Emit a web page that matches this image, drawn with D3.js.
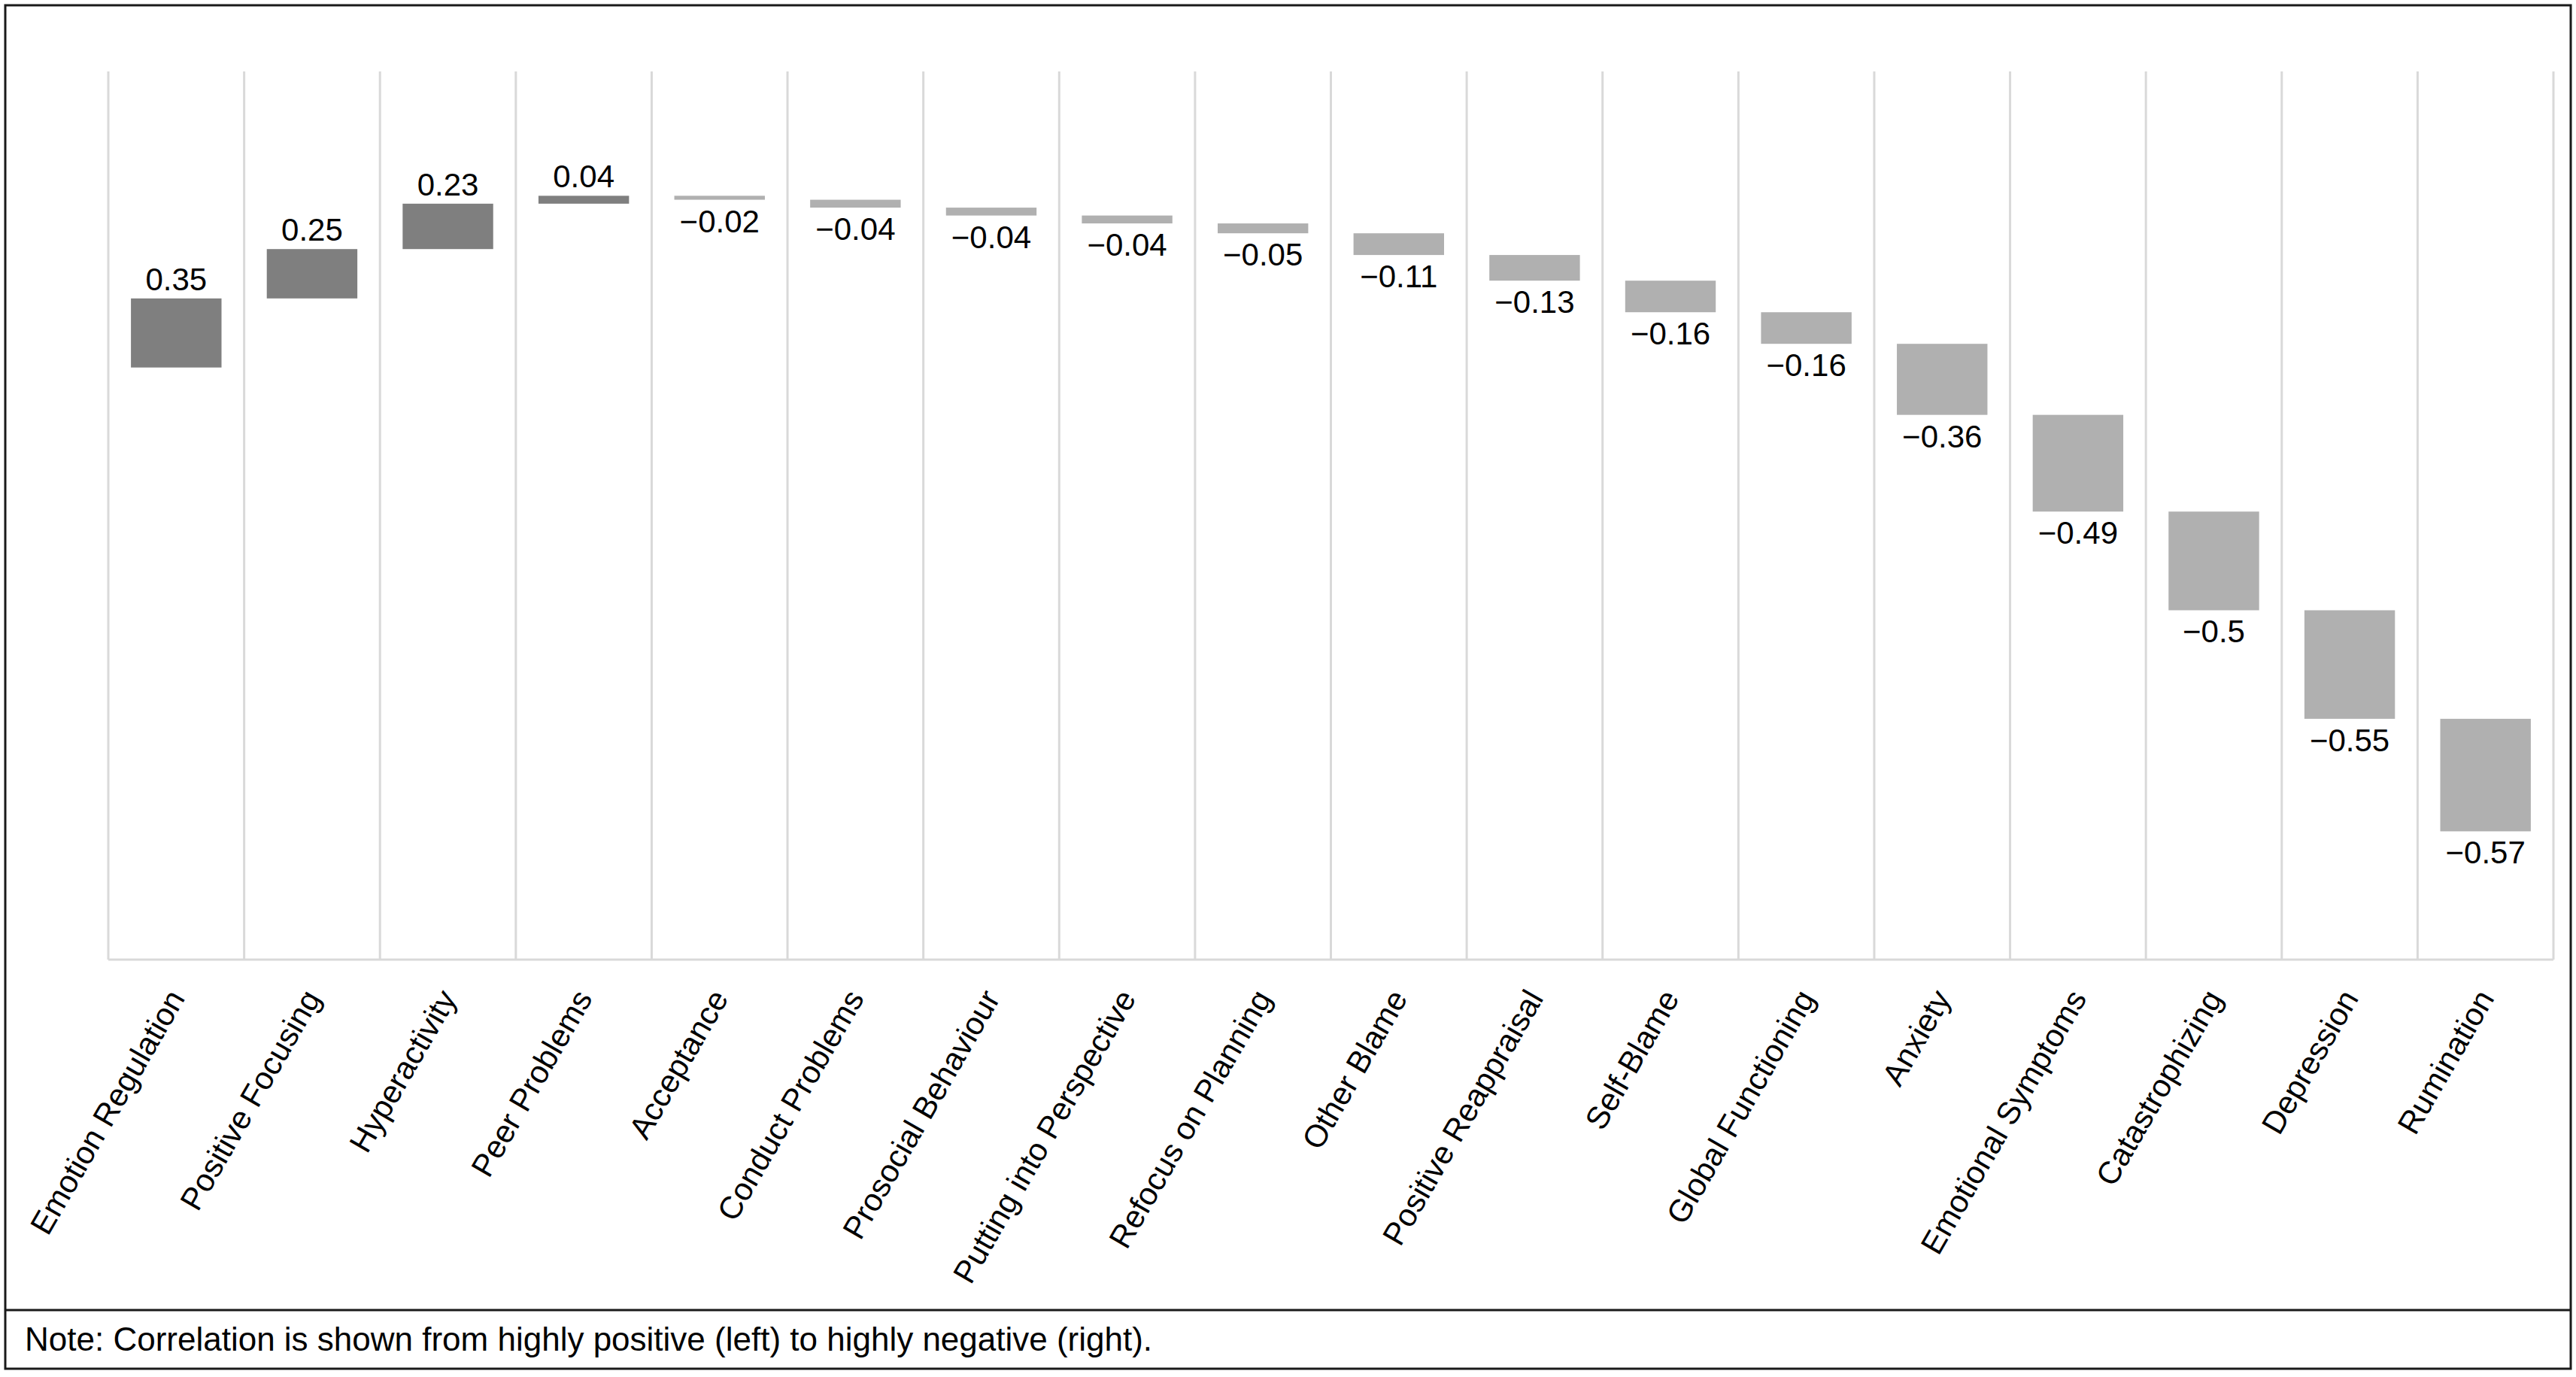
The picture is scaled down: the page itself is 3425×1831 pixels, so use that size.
<!DOCTYPE html>
<html>
<head>
<meta charset="utf-8">
<script src="https://cdn.jsdelivr.net/npm/d3@7/dist/d3.min.js"></script>
<style>
  html, body { margin: 0; padding: 0; background: #fff; }
  svg { display: block; }
</style>
</head>
<body>
<div id="chart"></div>
<script>
// Correlations, sorted from highly positive to highly negative
const categories = [
    "Emotion Regulation", "Positive Focusing", "Hyperactivity", "Peer Problems",
    "Acceptance", "Conduct Problems", "Prosocial Behaviour", "Putting into Perspective",
    "Refocus on Planning", "Other Blame", "Positive Reappraisal", "Self-Blame",
    "Global Functioning", "Anxiety", "Emotional Symptoms", "Catastrophizing",
    "Depression", "Rumination"
];
const values = [
    0.35, 0.25, 0.23, 0.04,
    -0.02, -0.04, -0.04, -0.04,
    -0.05, -0.11, -0.13, -0.16,
    -0.16, -0.36, -0.49, -0.5,
    -0.55, -0.57
];
const yDomain = [-3, 1.5];
const note = "Note: Correlation is shown from highly positive (left) to highly negative (right).";

const W = 3425, H = 1831;
const plot = { left: 144, right: 3395, top: 95, bottom: 1276 };
const FONT = "'Liberation Sans', Arial, sans-serif";

// waterfall steps
let run = 0;
const steps = values.map((v, i) => {
    const start = run;
    run += v;
    return { name: categories[i], value: v, start: start, end: run };
});

const svg = d3.select("#chart")
    .append("svg")
    .attr("width", W)
    .attr("height", H)
    .style("font-family", FONT);

const x = d3.scaleBand()
    .domain(categories)
    .range([plot.left, plot.right])
    .paddingInner(1 / 3)
    .paddingOuter(1 / 6);

const y = d3.scaleLinear()
    .domain(yDomain)
    .range([plot.bottom, plot.top]);

const half = (x.step() - x.bandwidth()) / 2;

// vertical gridlines at category boundaries
const bounds = categories.map(c => x(c) - half).concat([x(categories[categories.length - 1]) + x.bandwidth() + half]);
svg.append("g")
    .selectAll("line")
    .data(bounds)
    .enter()
    .append("line")
    .attr("x1", d => d)
    .attr("x2", d => d)
    .attr("y1", plot.top)
    .attr("y2", plot.bottom)
    .attr("stroke", "#d9d9d9")
    .attr("stroke-width", 3);

// category axis line
svg.append("line")
    .attr("x1", plot.left)
    .attr("x2", plot.right)
    .attr("y1", plot.bottom)
    .attr("y2", plot.bottom)
    .attr("stroke", "#d9d9d9")
    .attr("stroke-width", 3);

// bars
svg.append("g")
    .selectAll("rect")
    .data(steps)
    .enter()
    .append("rect")
    .attr("x", d => x(d.name))
    .attr("width", x.bandwidth())
    .attr("y", d => y(Math.max(d.start, d.end)))
    .attr("height", d => Math.abs(y(d.start) - y(d.end)))
    .attr("fill", d => d.value >= 0 ? "#7f7f7f" : "#b0b0b0");

// value labels
const fmt = d3.format(".2~f");
svg.append("g")
    .selectAll("text")
    .data(steps)
    .enter()
    .append("text")
    .attr("x", d => x(d.name) + x.bandwidth() / 2)
    .attr("y", d => d.value >= 0 ? y(d.end) - 11 : y(d.end) + 43)
    .attr("text-anchor", "middle")
    .attr("font-size", "42px")
    .attr("fill", "#000")
    .text(d => fmt(d.value));

// category labels, rotated
svg.append("g")
    .selectAll("text")
    .data(categories)
    .enter()
    .append("text")
    .attr("transform", d => `translate(${x(d) + x.bandwidth() / 2},${plot.bottom + 44}) rotate(-60)`)
    .attr("text-anchor", "end")
    .attr("dy", "0.35em")
    .attr("font-size", "42px")
    .attr("fill", "#000")
    .text(d => d);

// frame and note box
svg.append("rect")
    .attr("x", 7)
    .attr("y", 7)
    .attr("width", 3411)
    .attr("height", 1813)
    .attr("fill", "none")
    .attr("stroke", "#1a1a1a")
    .attr("stroke-width", 3);

svg.append("line")
    .attr("x1", 7)
    .attr("x2", 3418)
    .attr("y1", 1742)
    .attr("y2", 1742)
    .attr("stroke", "#1a1a1a")
    .attr("stroke-width", 3);

svg.append("text")
    .attr("x", 33)
    .attr("y", 1796)
    .attr("font-size", "44px")
    .attr("fill", "#000")
    .text(note);
</script>
</body>
</html>
